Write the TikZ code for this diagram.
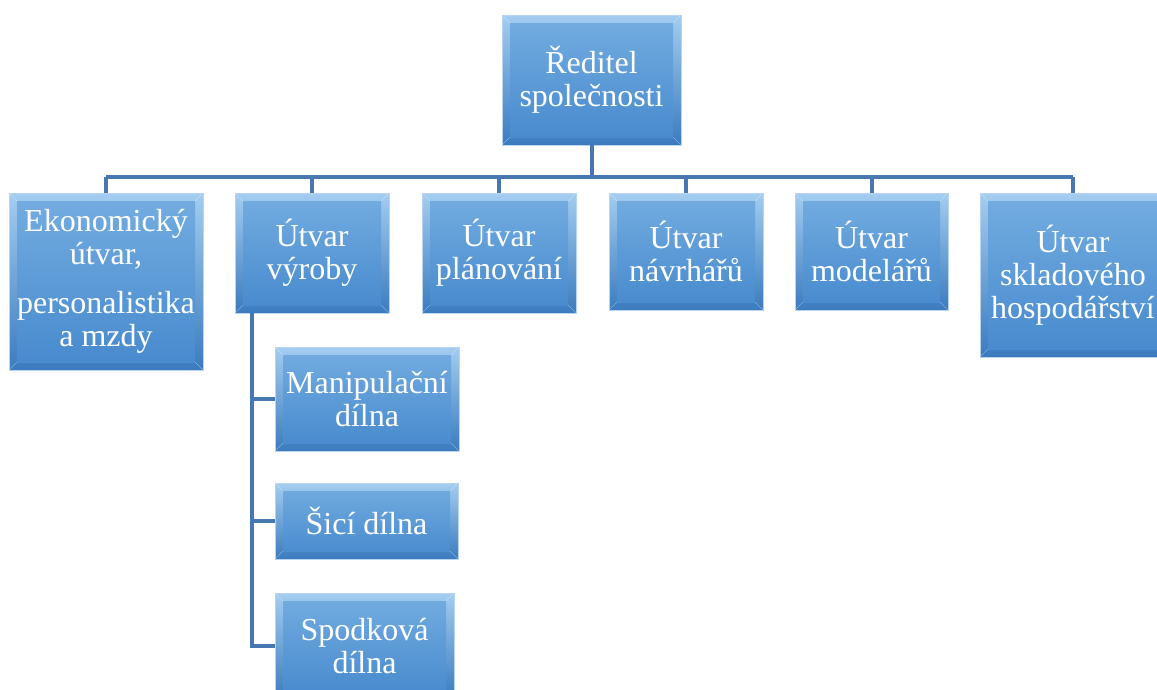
\documentclass[tikz,border=0pt]{standalone}
\usepackage{fontspec}
\setmainfont{Liberation Serif}
\definecolor{linkblue}{HTML}{4777B0}
\definecolor{bevellight}{HTML}{A4CDF0}
\definecolor{beveldark}{HTML}{3B7BBE}
\definecolor{facetop}{HTML}{74ADE1}
\definecolor{facebot}{HTML}{4689CD}
\definecolor{boxrim}{HTML}{B9D4EE}
\begin{document}
\begin{tikzpicture}[x=1pt,y=1pt]
	\tikzstyle{box}=[rectangle,draw=boxrim,line width=0.8pt,top color=bevellight,bottom color=beveldark,
	  text=white,align=center,inner sep=0pt,font=\fontsize{32}{33}\selectfont,
	  path picture={
	    \shade[top color=facetop,bottom color=facebot]
	      ([shift={(8pt,-8pt)}]path picture bounding box.north west) rectangle
	      ([shift={(-8pt,8pt)}]path picture bounding box.south east);
	    \draw[white,opacity=0.35,line width=0.6pt]
	      (path picture bounding box.north west) -- ++(8pt,-8pt)
	      (path picture bounding box.north east) -- ++(-8pt,-8pt)
	      (path picture bounding box.south west) -- ++(8pt,8pt)
	      (path picture bounding box.south east) -- ++(-8pt,8pt);}]
	\tikzstyle{link}=[draw=linkblue,line width=4pt]

	\clip (0,0) rectangle (1157,-689);

	 % top level
	 \node [box,minimum width=179,minimum height=130] (ceo) at (591.5,-80) {Ředitel\\společnosti};
	 \coordinate (bus) at (591.5,-177);

	 % departments
	 \node [box,minimum width=194,minimum height=177] (econ) at (106,-281.5) {Ekonomický\\útvar,\\[16pt]personalistika\\a mzdy};
	 \node [box,minimum width=154,minimum height=120] (vyroba) at (312,-253) {Útvar\\výroby};
	 \node [box,minimum width=154,minimum height=120] (plan) at (499,-253) {Útvar\\plánování};
	 \node [box,minimum width=154,minimum height=117] (navrh) at (686,-251.5) {Útvar\\návrhářů};
	 \node [box,minimum width=153,minimum height=117] (model) at (871.5,-251.5) {Útvar\\modelářů};
	 \node [box,minimum width=186,minimum height=164] (sklad) at (1073,-275) {Útvar\\skladového\\hospodářství};

	 % workshops
	 \node [box,minimum width=184,minimum height=104] (manip) at (367,-399) {Manipulační\\dílna};
	 \node [box,minimum width=183,minimum height=76] (sici) at (366.5,-521) {Šicí dílna};
	 \node [box,minimum width=179,minimum height=106] (spod) at (364.5,-646) {Spodková\\dílna};
	 \coordinate (spine) at (252,-313);

	 \path[link] (ceo.south) -- (bus);
	 \path[link] (econ.north |- bus) -- (sklad.north |- bus);
	 \foreach \n in {econ,vyroba,plan,navrh,model,sklad}
	   \path[link] (\n.north |- bus) -- (\n.north);

	 \path[link] (spine) |- (spod.west);
	 \path[link] (spine |- manip.west) -- (manip.west);
	 \path[link] (spine |- sici.west) -- (sici.west);

  \end{tikzpicture}
\end{document}
